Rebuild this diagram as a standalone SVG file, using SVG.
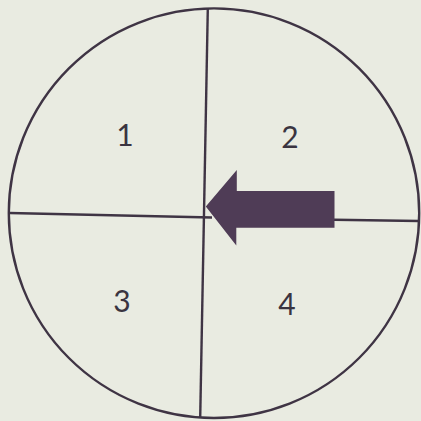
<svg xmlns="http://www.w3.org/2000/svg" width="421" height="421" viewBox="0 0 421 421">
<style>
.ln{stroke:#3f3444;stroke-width:2.4;fill:none}
.num{font-family:Lato,"Open Sans",sans-serif;font-size:30px;fill:#3a3440;text-anchor:middle}
</style>
<rect width="421" height="421" fill="#e9ebe1"/>
<g id="circle"><ellipse class="ln" cx="214" cy="213.2" rx="205.2" ry="204.8"/></g>
<g id="connectors">
<line class="ln" x1="207.8" y1="8.5" x2="200.2" y2="418"/>
<line class="ln" x1="9.5" y1="213" x2="212" y2="217.5"/>
<line class="ln" x1="334" y1="219.8" x2="419" y2="221"/>
</g>
<g id="arrow"><polygon fill="#4f3c56" points="205.8,206.5 236.8,170 236.8,191 334.5,191 334.5,227.8 236.3,227.8 236.3,245.5"/></g>
<g id="n1"><text class="num" x="125" y="146">1</text></g>
<g id="n2"><text class="num" x="290" y="148">2</text></g>
<g id="n3"><text class="num" x="122" y="312">3</text></g>
<g id="n4"><text class="num" x="287" y="315">4</text></g>
</svg>
